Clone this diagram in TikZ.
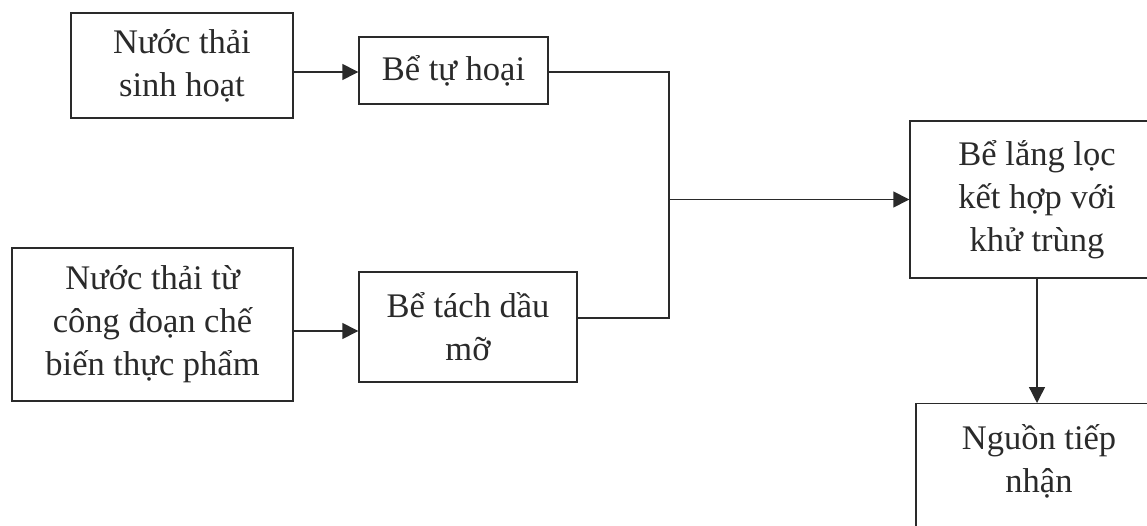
\documentclass[tikz,border=0pt]{standalone}
\usepackage{fontspec}
\setmainfont{Liberation Serif}
\usetikzlibrary{arrows.meta}
\definecolor{ink}{HTML}{2A2A2A}
\tikzset{
  box/.style={draw=ink, line width=1.4pt, rectangle, align=center, inner sep=0pt,
              text=ink, font=\fontsize{34.5}{43}\selectfont},
  txt/.style={align=center, inner sep=0pt, text=ink, font=\fontsize{34.5}{43}\selectfont},
  conn/.style={draw=ink, line width=1.4pt},
  arr/.style={conn, -{Triangle[length=16pt,width=16pt]}}
}
\begin{document}
\begin{tikzpicture}[x=1pt,y=-1pt]
\useasboundingbox (0,0) rectangle (1147,526);
\clip (0,0) rectangle (1147,526);
\fill[white] (0,0) rectangle (1147,526);

\node[box, minimum width=222, minimum height=105] (n1) at (182,65.5) {Nước thải\\sinh hoạt};
\node[box, minimum width=189, minimum height=67] (n2) at (453.5,70.5) {Bể tự hoại};
\node[box, minimum width=281, minimum height=153] (n3) at (152.5,324.5) {Nước thải từ\\công đoạn chế\\biến thực phẩm};
\node[box, minimum width=218, minimum height=110] (n4) at (468,327) {Bể tách dầu\\mỡ};
\node[box, minimum width=254, minimum height=157] (n5) at (1037,199.5) {Bể lắng lọc\\kết hợp với\\khử trùng};
\node[box, minimum width=246, minimum height=170, anchor=north] (n6) at (1039,403) {};
\node[txt, anchor=north] (n6t) at (1039,424) {Nguồn tiếp\\nhận};

\coordinate (jt) at (669,72);
\coordinate (jm) at (669,199.5);
\coordinate (jb) at (669,318);

\draw[arr] (n1.east |- jt) -- (n2.west |- jt);
\draw[arr] ([yshift=-4pt]n3.east |- n4.west) -- ([yshift=-4pt]n4.west);
\draw[conn] (n2.east |- jt) -- (jt) -- (jb) -- (n4.east |- jb);
\draw[arr] (jm) -- (n5.west);
\draw[arr] (n5.south) -- (n5.south |- n6.north);
\end{tikzpicture}
\end{document}
